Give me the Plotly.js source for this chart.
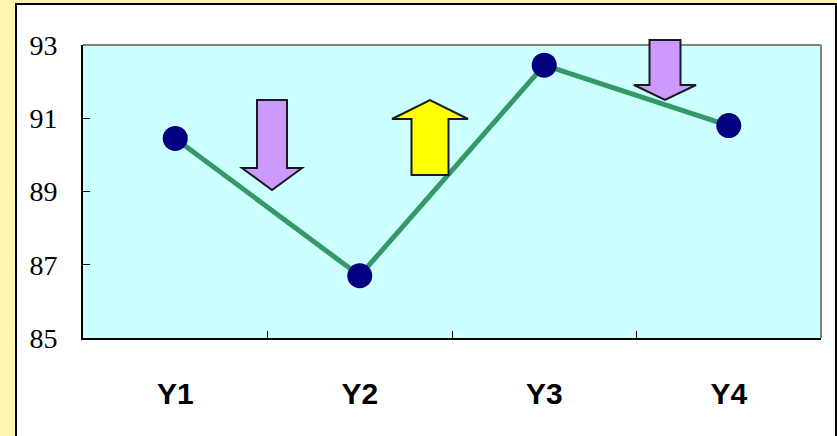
<!DOCTYPE html>
<html>
<head>
<meta charset="utf-8">
<script src="https://cdn.plot.ly/plotly-3.0.1.min.js"></script>
<style>
  html, body { margin: 0; padding: 0; width: 837px; height: 436px; overflow: hidden; background: #FFF4B0; }
  #panel { position: absolute; left: 15px; top: 3px; width: 818px; height: 440px; background: #FFFFFF; border: 2px solid #000000; }
  #chart { position: absolute; left: 0; top: 0; width: 837px; height: 436px; }
</style>
</head>
<body>
<div id="panel"></div>
<div id="chart"></div>
<script>
const categories = ['Y1', 'Y2', 'Y3', 'Y4'];
const values = [90.45, 86.7, 92.45, 90.8];
const yTicks = [85, 87, 89, 91, 93];

// Decorative arrows (page pixel geometry)
const W = 837, H = 436;
const M = { l: 83, r: 16, t: 45, b: 98 };
const PW = W - M.l - M.r, PH = H - M.t - M.b;
const px = x => (x - M.l) / PW;
const py = y => (H - M.b - y) / PH;

function arrow(cx, yStart, yHeadBase, yTip, shaftHalf, headHalf, fill) {
  const pts = [
    [cx - shaftHalf, yStart], [cx + shaftHalf, yStart],
    [cx + shaftHalf, yHeadBase], [cx + headHalf, yHeadBase],
    [cx, yTip],
    [cx - headHalf, yHeadBase], [cx - shaftHalf, yHeadBase]
  ];
  const d = 'M ' + pts.map(p => px(p[0]).toFixed(5) + ',' + py(p[1]).toFixed(5)).join(' L ') + ' Z';
  return { type: 'path', xref: 'paper', yref: 'paper', path: d, fillcolor: fill,
           line: { color: '#1a1a1a', width: 2 }, layer: 'above' };
}

const shapes = [
  // gray top & right frame of the plot area
  { type: 'line', xref: 'paper', yref: 'paper', x0: 0, x1: 1, y0: 1, y1: 1, line: { color: '#808080', width: 2 } },
  { type: 'line', xref: 'paper', yref: 'paper', x0: 1, x1: 1, y0: 0, y1: 1, line: { color: '#808080', width: 2 } },
  arrow(272, 100, 168, 190, 15, 30, '#CC99FF'),
  arrow(430, 175, 119, 100, 18.5, 38, '#FFFF00'),
  arrow(665, 40, 85, 100, 15.5, 31, '#CC99FF')
];

const trace = {
  x: categories, y: values, type: 'scatter', mode: 'lines+markers',
  line: { color: '#339966', width: 5 },
  marker: { color: '#000080', size: 25, line: { width: 0 } },
  cliponaxis: false
};

const layout = {
  width: W, height: H,
  margin: M,
  paper_bgcolor: 'rgba(0,0,0,0)',
  plot_bgcolor: '#CCFFFF',
  showlegend: false,
  xaxis: {
    type: 'category', range: [-0.5, 3.5], tickson: 'boundaries',
    ticks: 'inside', ticklen: 7, tickwidth: 1, tickcolor: '#000000',
    showline: true, linecolor: '#000000', linewidth: 2,
    showgrid: false, zeroline: false,
    tickfont: { family: 'Liberation Sans, Arial, sans-serif', size: 30, color: '#000000', weight: 'bold' },
    ticklabelstandoff: 28
  },
  yaxis: {
    range: [85, 93], tickvals: yTicks, ticktext: yTicks.map(String),
    ticks: 'inside', ticklen: 7, tickwidth: 1, tickcolor: '#000000',
    showline: true, linecolor: '#000000', linewidth: 2,
    showgrid: false, zeroline: false,
    tickfont: { family: 'Liberation Serif, Times New Roman, serif', size: 28, color: '#000000' },
    ticklabelstandoff: 18
  },
  shapes: shapes
};

Plotly.newPlot('chart', [trace], layout, { displayModeBar: false, staticPlot: true });
</script>
</body>
</html>
